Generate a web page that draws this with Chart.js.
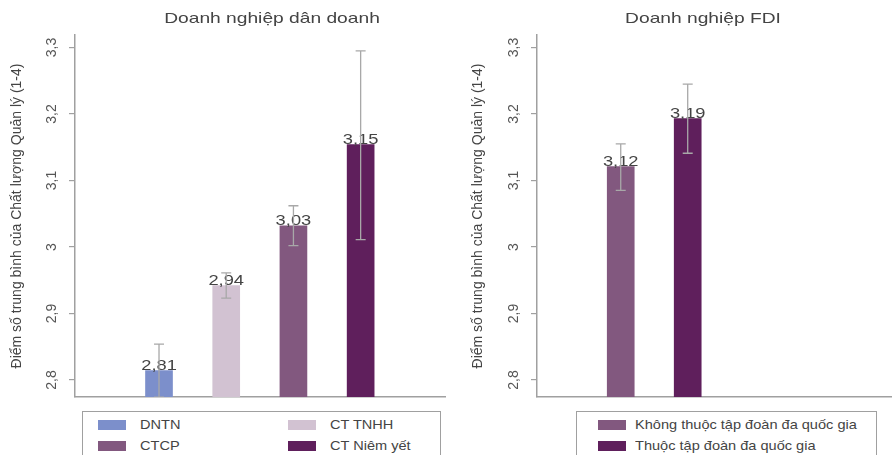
<!DOCTYPE html>
<html>
<head>
<meta charset="utf-8">
<script src="https://cdn.jsdelivr.net/npm/chart.js@4"></script>
<style>
  body { margin: 0; background: #fff; }
  #wrap { position: relative; width: 892px; height: 455px; overflow: hidden; font-family: "Liberation Sans", Arial, sans-serif; }
  canvas { position: absolute; top: 0; }
  .legend { position: absolute; top: 411px; height: 60px; border: 1.5px solid #a0a0a0; box-sizing: border-box; }
  .item { position: absolute; height: 14px; font-size: 13px; color: #444; white-space: nowrap; }
  .item .sw { position: absolute; left: 0; top: 2px; width: 28px; height: 10px; }
  .item .tx { position: absolute; top: -1px; transform: scaleX(1.12); transform-origin: left center; }
</style>
</head>
<body>
<div id="wrap">
  <canvas id="privateChart" width="446" height="400" style="left:0"></canvas>
  <canvas id="fdiChart" width="446" height="400" style="left:446px"></canvas>
  <div class="legend" id="privateLegend" style="left:82px; width:359px"></div>
  <div class="legend" id="fdiLegend" style="left:576px; width:301px"></div>
</div>
<script>
// ========== DATA ========== //
const privateCats = ["DNTN", "CT TNHH", "CTCP", "CT Niêm yết"];
const privateMeans = [2.814, 2.942, 3.032, 3.154];
const privateLow = [2.774, 2.923, 3.002, 3.011];
const privateHigh = [2.854, 2.961, 3.062, 3.295];
const privateColors = ["#7c8fcb", "#d2c2d2", "#82587f", "#5f1f5c"];

const fdiCats = ["Không thuộc tập đoàn đa quốc gia", "Thuộc tập đoàn đa quốc gia"];
const fdiMeans = [3.121, 3.193];
const fdiLow = [3.085, 3.141];
const fdiHigh = [3.155, 3.245];
const fdiColors = ["#82587f", "#5f1f5c"];

const yTitle = "Điểm số trung bình của Chất lượng Quản lý (1-4)";
const FONT = '"Liberation Sans", Arial, sans-serif';

const fmt = (v, d) => String(+v.toFixed(d)).replace(".", ",");
const fmt2 = v => v.toFixed(2).replace(".", ",");

// titles, value labels and error bars
function makeDecor(low, high, title, titleX) {
  return {
    id: "decor",
    afterDatasetsDraw(chart) {
      const ctx = chart.ctx;
      const meta = chart.getDatasetMeta(0);
      const ds = chart.data.datasets[0];
      const y = chart.scales.y;
      const area = chart.chartArea;

      ctx.save();
      ctx.fillStyle = "#444";
      ctx.font = "15px " + FONT;
      ctx.textAlign = "center";
      ctx.textBaseline = "alphabetic";
      meta.data.forEach((bar, i) => {
        ctx.save();
        ctx.translate(bar.x, bar.y - 1);
        ctx.scale(1.22, 1);
        ctx.fillText(fmt2(ds.data[i].y), 0, 0);
        ctx.restore();
      });

      ctx.beginPath();
      ctx.rect(area.left, area.top, area.width, area.height);
      ctx.clip();
      ctx.strokeStyle = "#a8a8a8";
      ctx.lineWidth = 1.3;
      low.forEach((lo, i) => {
        const x = meta.data[i].x;
        const y1 = y.getPixelForValue(lo);
        const y2 = y.getPixelForValue(high[i]);
        ctx.beginPath();
        ctx.moveTo(x, y1); ctx.lineTo(x, y2);
        ctx.moveTo(x - 5, y1); ctx.lineTo(x + 5, y1);
        ctx.moveTo(x - 5, y2); ctx.lineTo(x + 5, y2);
        ctx.stroke();
      });
      ctx.restore();

      ctx.save();
      ctx.fillStyle = "#444";
      ctx.font = "15px " + FONT;
      ctx.textAlign = "center";
      ctx.textBaseline = "middle";
      ctx.translate(titleX, 19);
      ctx.scale(1.28, 1);
      ctx.fillText(title, 0, 0);
      ctx.restore();
    }
  };
}

function drawPanel(id, cats, means, low, high, colors, title, titleX, xMax, padLeft, yWidth) {
  const ctx = document.getElementById(id).getContext("2d");
  new Chart(ctx, {
    type: "bar",
    data: {
      labels: cats,
      datasets: [{
        data: means.map((v, i) => ({ x: i, y: v })),
        backgroundColor: colors,
        borderWidth: 0,
        barThickness: 27
      }]
    },
    options: {
      responsive: false,
      animation: false,
      layout: { padding: { top: 35, bottom: 3, left: padLeft, right: 0 } },
      plugins: { legend: { display: false }, tooltip: { enabled: false } },
      scales: {
        x: {
          type: "linear",
          min: -1.25,
          max: xMax,
          offset: false,
          grid: { display: false },
          ticks: { display: false },
          border: { display: true, color: "#a0a0a0", width: 1.5 },
          afterFit: s => { s.height = 0; s.paddingLeft = 0; s.paddingRight = 0; }
        },
        y: {
          min: 2.7744,
          max: 3.3188,
          beginAtZero: false,
          grid: { display: true, drawOnChartArea: false, drawTicks: true, tickLength: 6, color: "#a0a0a0", lineWidth: 1.2 },
          border: { display: true, color: "#a0a0a0", width: 1.5 },
          ticks: {
            stepSize: 0.1,
            includeBounds: false,
            minRotation: 90,
            maxRotation: 90,
            crossAlign: "center",
            padding: 7,
            color: "#555",
            font: { family: FONT, size: 14 },
            callback: v => fmt(v, 1)
          },
          title: {
            display: true,
            text: yTitle,
            color: "#444",
            font: { family: FONT, size: 14 },
            padding: { top: 9, bottom: 0 }
          },
          afterFit: s => { s.width = yWidth; s.paddingTop = 0; s.paddingBottom = 0; }
        }
      }
    },
    plugins: [makeDecor(low, high, title, titleX)]
  });
}

function drawLegend(id, cats, colors, cols) {
  const box = document.getElementById(id);
  cats.forEach((c, i) => {
    const col = i % cols.length;
    const row = Math.floor(i / cols.length);
    const el = document.createElement("div");
    el.className = "item";
    el.style.left = cols[col] + "px";
    el.style.top = (6 + row * 21) + "px";
    el.innerHTML = '<span class="sw" style="background:' + colors[i] + '"></span><span class="tx"></span>';
    const tx = el.querySelector(".tx");
    tx.textContent = c;
    tx.style.left = (cats.length > 2 ? 42 : 37) + "px";
    box.appendChild(el);
  });
}

// ========== INIT ========== //
drawPanel("privateChart", privateCats, privateMeans, privateLow, privateHigh, privateColors,
  "Doanh nghiệp dân doanh", 272, 4.27, 0, 75);
drawPanel("fdiChart", fdiCats, fdiMeans, fdiLow, fdiHigh, fdiColors,
  "Doanh nghiệp FDI", 257, 4.05, 15, 76);
drawLegend("privateLegend", privateCats, privateColors, [15, 205]);
drawLegend("fdiLegend", fdiCats, fdiColors, [21]);
</script>
</body>
</html>
